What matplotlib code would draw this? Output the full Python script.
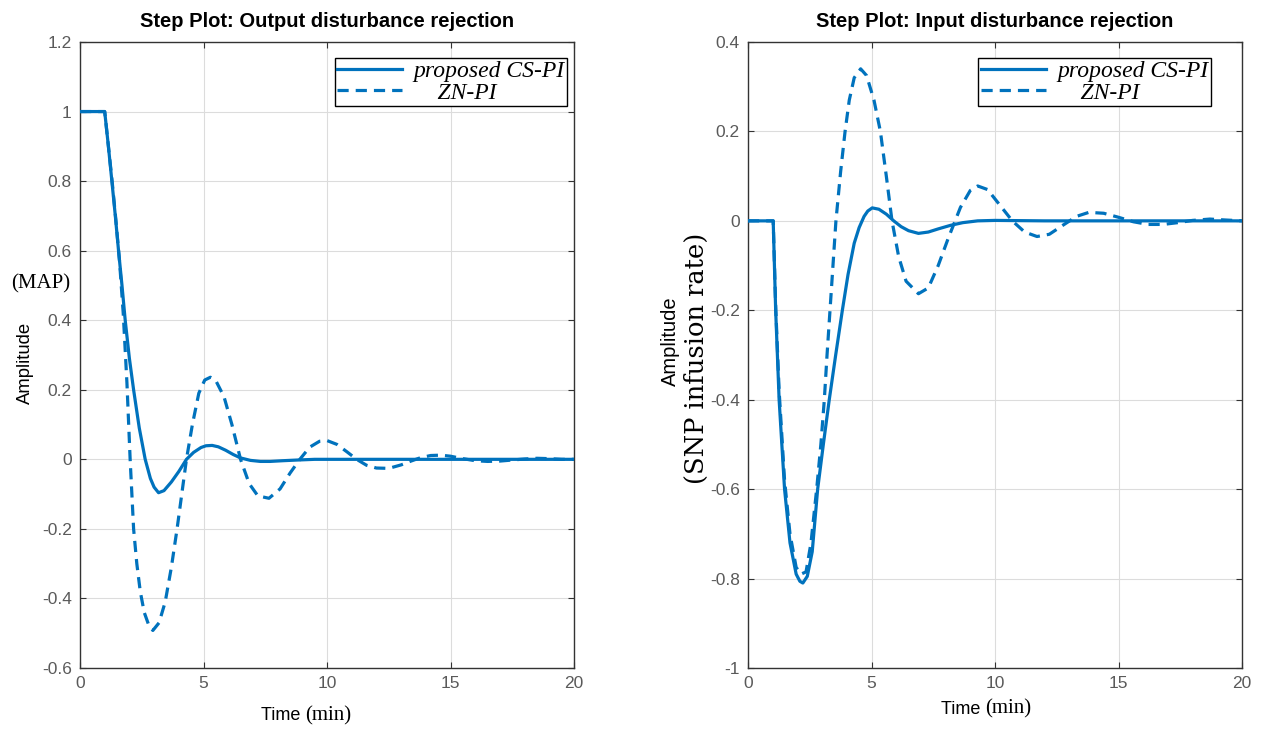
import numpy as np
import matplotlib.pyplot as plt

# output disturbance rejection (MAP)
t_out_cs = [0, 1.0, 1.15, 1.29, 1.43, 1.56, 1.7, 1.83, 2.0, 2.17, 2.4, 2.64, 2.85, 3.0, 3.18, 3.4, 3.7,
            4.0, 4.31, 4.6, 4.9, 5.1, 5.35, 5.6, 5.9, 6.2, 6.5, 6.9, 7.3, 7.7, 8.2, 8.8, 9.5, 10.5, 12, 20]
y_out_cs = [1, 1, 0.9, 0.8, 0.7, 0.6, 0.5, 0.4, 0.29, 0.2, 0.09, 0.0, -0.055, -0.08, -0.096, -0.09, -0.065,
            -0.035, 0.0, 0.02, 0.034, 0.039, 0.04, 0.036, 0.026, 0.014, 0.004, -0.003, -0.006, -0.006, -0.004,
            -0.002, 0.0, 0.0, 0.0, 0.0]

t_out_zn = [0, 1.0, 1.15, 1.3, 1.45, 1.6, 1.75, 1.9, 2.03, 2.17, 2.3, 2.44, 2.6, 2.8, 2.95, 3.2, 3.45, 3.7,
            3.93, 4.12, 4.31, 4.55, 4.81, 5.05, 5.28, 5.5, 5.83, 6.15, 6.5, 6.85, 7.2, 7.65, 8.1, 8.5, 8.9,
            9.3, 9.7, 10.0, 10.4, 10.8, 11.2, 11.6, 12.0, 12.5, 13.0, 13.4, 13.8, 14.2, 14.6, 15.0, 15.5,
            16.0, 16.5, 17.0, 17.5, 18.0, 18.5, 19.0, 19.5, 20]
y_out_zn = [1, 1, 0.9, 0.8, 0.69, 0.57, 0.42, 0.22, 0.0, -0.2, -0.3, -0.38, -0.44, -0.48, -0.492, -0.47,
            -0.41, -0.31, -0.2, -0.1, 0.0, 0.1, 0.19, 0.228, 0.236, 0.226, 0.18, 0.1, 0.0, -0.07, -0.105,
            -0.112, -0.085, -0.04, 0.0, 0.035, 0.052, 0.054, 0.043, 0.022, 0.0, -0.017, -0.025, -0.026,
            -0.016, -0.005, 0.005, 0.011, 0.012, 0.009, 0.002, -0.004, -0.006, -0.005, -0.002, 0.001,
            0.003, 0.002, 0.0, 0.0]

# input disturbance rejection (SNP infusion rate)
t_in_cs = [0, 1.02, 1.12, 1.26, 1.48, 1.7, 1.95, 2.1, 2.22, 2.4, 2.6, 2.82, 3.05, 3.29, 3.55, 3.82, 4.05,
           4.3, 4.5, 4.7, 4.85, 5.03, 5.3, 5.6, 5.9, 6.2, 6.5, 6.9, 7.3, 7.7, 8.2, 8.7, 9.3, 10, 12, 20]
y_in_cs = [0, 0, -0.2, -0.4, -0.6, -0.72, -0.79, -0.806, -0.81, -0.795, -0.74, -0.6, -0.5, -0.4, -0.3,
           -0.2, -0.12, -0.05, -0.015, 0.01, 0.022, 0.029, 0.026, 0.015, 0.0, -0.013, -0.022, -0.028,
           -0.025, -0.018, -0.01, -0.004, 0.0, 0.001, 0.0, 0.0]

t_in_zn = [0, 1.02, 1.12, 1.26, 1.48, 1.7, 1.95, 2.15, 2.35, 2.55, 2.78, 2.95, 3.09, 3.2, 3.32, 3.44, 3.56,
           3.75, 3.93, 4.1, 4.3, 4.56, 4.8, 5.1, 5.36, 5.6, 5.83, 6.1, 6.4, 6.9, 7.3, 7.7, 8.1, 8.6, 9.0,
           9.3, 9.7, 10.2, 10.7, 11.2, 11.7, 12.2, 12.8, 13.3, 13.8, 14.4, 15.0, 15.6, 16.2, 16.8, 17.4,
           18.0, 18.7, 19.3, 20]
y_in_zn = [0, 0, -0.19, -0.38, -0.58, -0.7, -0.775, -0.79, -0.785, -0.72, -0.6, -0.5, -0.4, -0.3, -0.2,
           -0.1, 0.0, 0.11, 0.2, 0.27, 0.32, 0.34, 0.325, 0.27, 0.2, 0.1, 0.0, -0.08, -0.135, -0.163, -0.15,
           -0.1, -0.04, 0.03, 0.068, 0.078, 0.07, 0.035, 0.0, -0.025, -0.035, -0.03, -0.008, 0.01, 0.019,
           0.017, 0.008, -0.002, -0.008, -0.008, -0.004, 0.001, 0.004, 0.002, 0.0]

labels = ['proposed CS-PI', '    ZN-PI']
titles = ['Step Plot: Output disturbance rejection', 'Step Plot: Input disturbance rejection']
x_ticks = [0, 5, 10, 15, 20]
y_ticks_out = [-0.6, -0.4, -0.2, 0, 0.2, 0.4, 0.6, 0.8, 1, 1.2]
y_ticks_in = [-1, -0.8, -0.6, -0.4, -0.2, 0, 0.2, 0.4]

blue = '#0072BD'
sans = 'Liberation Sans'
serif = 'Liberation Serif'

fig = plt.figure(figsize=(12.69, 7.31), dpi=100)
ax1 = fig.add_axes([80/1269, 1-668/731, 494/1269, 626/731])
ax2 = fig.add_axes([748/1269, 1-668/731, 494/1269, 626/731])

panels = [
    (ax1, t_out_cs, y_out_cs, t_out_zn, y_out_zn, y_ticks_out, titles[0], 0.986),
    (ax2, t_in_cs, y_in_cs, t_in_zn, y_in_zn, y_ticks_in, titles[1], 0.937),
]
for ax, tc, yc, tz, yz, yt, title, leg_x in panels:
    ax.plot(tc, yc, color=blue, lw=2.3, label=labels[0], zorder=3)
    ax.plot(tz, yz, color=blue, lw=2.3, ls=(0, (3.5, 2.2)), label=labels[1], zorder=3)
    ax.set_xlim(0, 20)
    ax.set_ylim(yt[0], yt[-1])
    ax.set_xticks(x_ticks)
    ax.set_yticks(yt)
    ax.set_yticklabels([f'{v:g}' for v in yt])
    ax.grid(True, color='#dcdcdc', lw=0.8)
    ax.set_axisbelow(True)
    ax.tick_params(direction='in', length=4, top=True, right=True, colors='#333333',
                   labelcolor='#5a5a5a', labelsize=12.5, pad=6)
    for lab in ax.get_xticklabels() + ax.get_yticklabels():
        lab.set_family(sans)
    for sp in ax.spines.values():
        sp.set_color('#333333')
        sp.set_linewidth(1.0)
    ax.set_title(title, fontsize=14.5, fontweight='bold', family=sans, pad=11)
    leg = ax.legend(loc='upper right', bbox_to_anchor=(leg_x, 0.974), borderaxespad=0,
                    prop={'family': serif, 'style': 'italic', 'size': 17},
                    handlelength=2.75, labelspacing=0.0, borderpad=0.1, handletextpad=0.5,
                    fancybox=False, framealpha=1)
    leg.get_frame().set_edgecolor('black')
    leg.get_frame().set_linewidth(1.0)

# axis labels (mixed fonts, as in the original figure)
fig.text(25/1269, 1-363/731, 'Amplitude', rotation=90, ha='center', va='center',
         fontsize=13.3, family=sans)
fig.text(41/1269, 1-284/731, '(MAP)', ha='center', va='center', fontsize=15, family=serif)
fig.text(670/1269, 1-341/731, 'Amplitude', rotation=90, ha='center', va='center',
         fontsize=14.5, family=sans)
fig.text(696/1269, 1-358/731, '(SNP infusion rate)', rotation=90, ha='center', va='center',
         fontsize=18.5, family='DejaVu Serif')

fig.text(305/1269, 1-716/731, 'Time ', ha='right', va='center', fontsize=13, family=sans)
fig.text(305/1269, 1-716/731, '(min)', ha='left', va='center', fontsize=15, family=serif)
fig.text(985/1269, 1-709/731, 'Time ', ha='right', va='center', fontsize=13, family=sans)
fig.text(985/1269, 1-709/731, '(min)', ha='left', va='center', fontsize=15, family=serif)

fig.savefig('out.png', dpi=100)
